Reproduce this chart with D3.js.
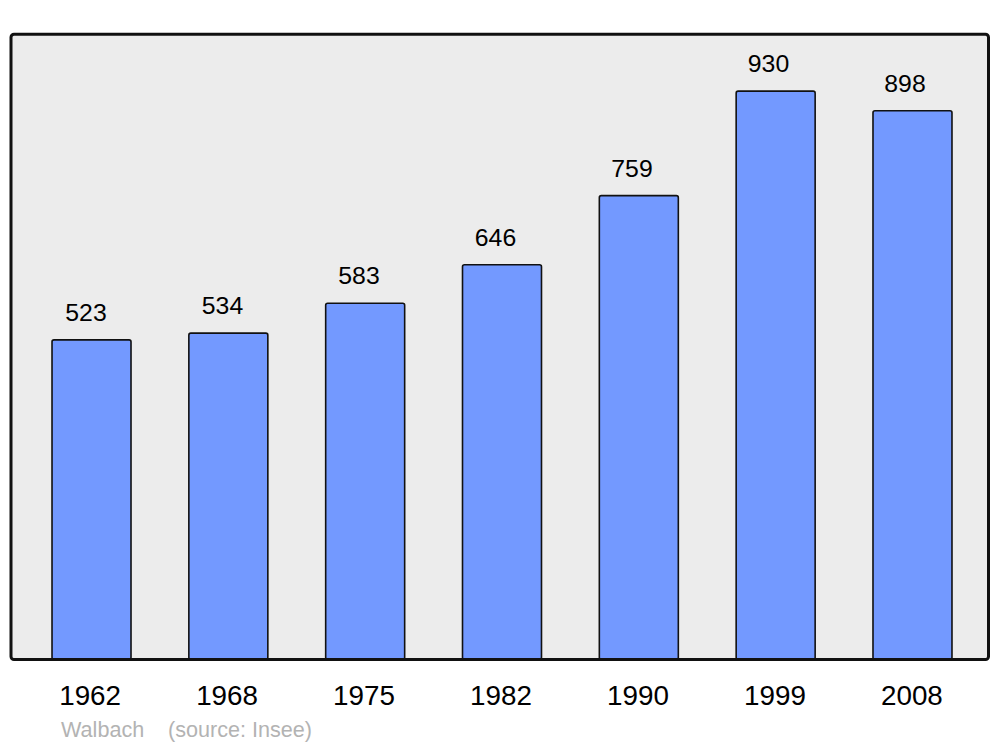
<!DOCTYPE html>
<html>
<head>
<meta charset="utf-8">
<script src="https://cdn.jsdelivr.net/npm/d3@7"></script>
<style>
html,body{margin:0;padding:0;background:#fff;}
svg{display:block;}
</style>
</head>
<body>
<svg id="chart" width="1000" height="747"></svg>
<script>
const years = ["1962","1968","1975","1982","1990","1999","2008"];
const population = [523, 534, 583, 646, 759, 930, 898];
const commune = "Walbach";
const source = "(source: Insee)";

const svg = d3.select("#chart");
const frame = {x0: 11, y0: 34.3, x1: 988.5, y1: 659.5};

const x = d3.scaleBand()
  .domain(years)
  .range([23.1, 980.9])
  .paddingInner(0.4227)
  .paddingOuter(0.4227 / 2);

// label positions (slightly offset from bar centres, as in the original)
const xVal = d3.scalePoint().domain(years).range([86, 905]);
const xYear = d3.scalePoint().domain(years).range([89.6, 911.4]);

const y = d3.scaleLinear()
  .domain([0, d3.max(population) * 1.1])
  .range([frame.y1, frame.y0]);

svg.append("rect")
  .attr("x", frame.x0).attr("y", frame.y0)
  .attr("width", frame.x1 - frame.x0).attr("height", frame.y1 - frame.y0)
  .attr("rx", 3).attr("ry", 3)
  .attr("fill", "#ececec");

const data = years.map((yr, i) => ({year: yr, value: population[i]}));

svg.selectAll("rect.bar").data(data).enter().append("rect")
  .attr("class", "bar")
  .attr("x", d => x(d.year))
  .attr("y", d => y(d.value))
  .attr("width", x.bandwidth())
  .attr("height", d => y(0) - y(d.value))
  .attr("rx", 2).attr("ry", 2)
  .attr("fill", "#7399ff")
  .attr("stroke", "#111")
  .attr("stroke-width", 1.6);

svg.selectAll("text.val").data(data).enter().append("text")
  .attr("class", "val")
  .attr("x", d => xVal(d.year))
  .attr("y", d => y(d.value) - 19)
  .attr("text-anchor", "middle")
  .attr("font-family", "Liberation Sans, Arial, sans-serif")
  .attr("font-size", 24.8)
  .attr("fill", "#000")
  .text(d => d.value);

// frame border on top
svg.append("rect")
  .attr("x", frame.x0).attr("y", frame.y0)
  .attr("width", frame.x1 - frame.x0).attr("height", frame.y1 - frame.y0)
  .attr("rx", 3).attr("ry", 3)
  .attr("fill", "none")
  .attr("stroke", "#111")
  .attr("stroke-width", 3);

const xAxis = d3.axisBottom(xYear).tickSize(0).tickPadding(0);
const gx = svg.append("g")
  .attr("transform", `translate(0,${frame.y1})`)
  .call(xAxis);
gx.select(".domain").remove();
gx.selectAll("text")
  .attr("dy", null)
  .attr("y", 45)
  .attr("font-family", "Liberation Sans, Arial, sans-serif")
  .attr("font-size", 27.8)
  .attr("fill", "#000");

svg.append("text")
  .attr("x", 61).attr("y", 737)
  .attr("font-family", "Liberation Sans, Arial, sans-serif")
  .attr("font-size", 21.6)
  .attr("fill", "#b3b3b3")
  .text(commune);
svg.append("text")
  .attr("x", 168).attr("y", 737)
  .attr("font-family", "Liberation Sans, Arial, sans-serif")
  .attr("font-size", 21.6)
  .attr("fill", "#b3b3b3")
  .text(source);
</script>
</body>
</html>
